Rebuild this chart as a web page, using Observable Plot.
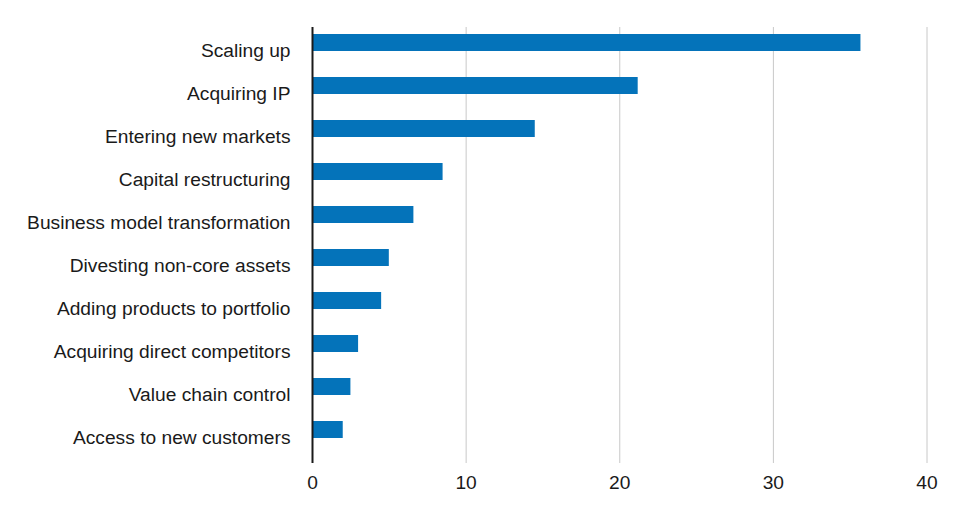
<!DOCTYPE html>
<html>
<head>
<meta charset="utf-8">
<script src="https://cdn.jsdelivr.net/npm/d3@7"></script>
<script src="https://cdn.jsdelivr.net/npm/@observablehq/plot@0.6"></script>
<style>
  html, body { margin: 0; padding: 0; background: #fff; }
  #chart svg { display: block; }
</style>
</head>
<body>
<div id="chart"></div>
<script>
const categories = [
  "Scaling up",
  "Acquiring IP",
  "Entering new markets",
  "Capital restructuring",
  "Business model transformation",
  "Divesting non-core assets",
  "Adding products to portfolio",
  "Acquiring direct competitors",
  "Value chain control",
  "Access to new customers"
];
const values = [35.7, 21.2, 14.5, 8.5, 6.6, 5.0, 4.5, 3.0, 2.5, 2.0];
const xTicks = [0, 10, 20, 30, 40];
const gridTicks = [10, 20, 30, 40];

const data = categories.map((c, i) => ({category: c, value: values[i]}));

const chart = Plot.plot({
  width: 964,
  height: 516,
  marginLeft: 312,
  marginRight: 37.5,
  marginTop: 27,
  marginBottom: 53,
  style: {
    fontFamily: "Liberation Sans, Arial, Helvetica, sans-serif",
    fontSize: "19.2px",
    color: "#1a1a1a",
    background: "#fff"
  },
  x: {domain: [0, 40], ticks: xTicks, label: null},
  y: {domain: categories, range: [33.35, 438.4], paddingInner: 0.613, paddingOuter: 0, label: null},
  marks: [
    Plot.gridX(gridTicks, {stroke: "#c8c8c8", strokeOpacity: 1, strokeWidth: 1}),
    Plot.barX(data, {x: "value", y: "category", fill: "#0473ba"}),
    Plot.ruleX([0], {stroke: "#1a1a1a", strokeWidth: 2}),
    Plot.axisX({ticks: xTicks, tickSize: 0, tickPadding: 12, label: null, fontSize: 19.2}),
    Plot.axisY({tickSize: 0, tickPadding: 22, label: null, fontSize: 19.2, dy: 8})
  ]
});
document.getElementById("chart").appendChild(chart);
</script>
</body>
</html>
